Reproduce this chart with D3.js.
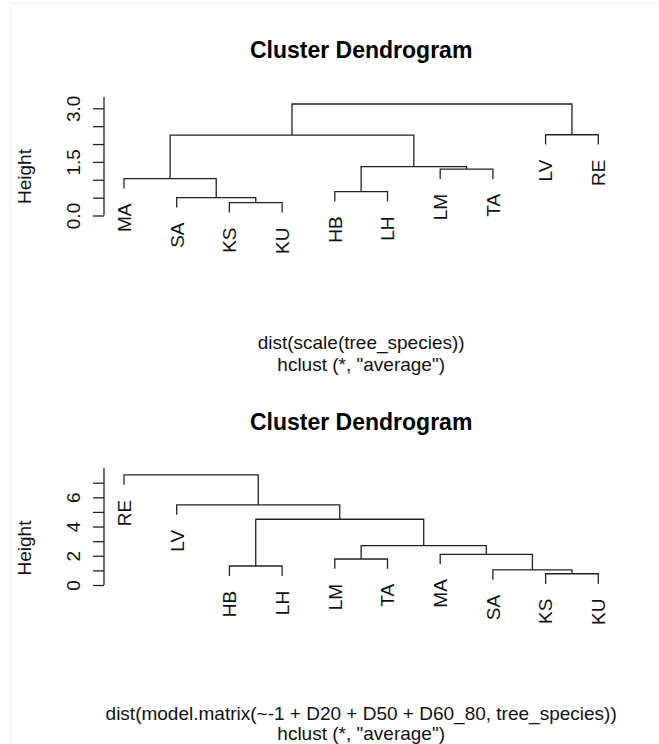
<!DOCTYPE html>
<html>
<head>
<meta charset="utf-8">
<script src="https://cdn.jsdelivr.net/npm/d3@7"></script>
<style>
  body { margin: 0; background: #fff; }
  text { font-family: "Liberation Sans", Arial, sans-serif; }
</style>
</head>
<body>
<div id="chart"></div>
<script>
// data
// merges: leaf names or 1-based index of an earlier merge
const leaves1 = ["MA", "SA", "KS", "KU", "HB", "LH", "LM", "TA", "LV", "RE"];
const merges1 = [["KS", "KU"], ["SA", 1], ["HB", "LH"], ["MA", 2], ["LM", "TA"], [3, 5], [4, 6], ["LV", "RE"], [7, 8]];
const heights1 = [0.36, 0.50, 0.67, 1.03, 1.30, 1.37, 2.25, 2.26, 3.12];
const ticks1 = [0, 0.5, 1, 1.5, 2, 2.5, 3];
const tickLabels1 = ["0.0", "", "", "1.5", "", "", "3.0"];
const sub1 = ["dist(scale(tree_species))", "hclust (*, \"average\")"];

const leaves2 = ["RE", "LV", "HB", "LH", "LM", "TA", "MA", "SA", "KS", "KU"];
const merges2 = [["KS", "KU"], ["SA", 1], ["HB", "LH"], ["LM", "TA"], ["MA", 2], [4, 5], [3, 6], ["LV", 7], ["RE", 8]];
const heights2 = [0.77, 1.03, 1.30, 1.78, 2.10, 2.69, 4.50, 5.48, 7.53];
const ticks2 = [0, 1, 2, 3, 4, 5, 6, 7];
const tickLabels2 = ["0", "", "2", "", "4", "", "6", ""];
const sub2 = ["dist(model.matrix(~-1 + D20 + D50 + D60_80, tree_species))", "hclust (*, \"average\")"];

const title = "Cluster Dendrogram";
const ylab = "Height";

const width = 659;
const height = 744;
const axisX = 104;
const leftX = 124, rightX = 598.3;
const lineCol = "#222";

const svg = d3.select("#chart").append("svg")
    .attr("width", width).attr("height", height);

// faint frame seen at the edge of the picture
svg.append("path").attr("d", "M10.5,744V3.5H659").attr("fill", "none").attr("stroke", "#efefef");

function drawDendro(leaves, merges, heights, ticks, tickLabels, subs, lay) {
    const g = svg.append("g");
    const x = d3.scalePoint().domain(leaves).range([leftX, rightX]);
    const y = d3.scaleLinear().domain([0, ticks[ticks.length - 1]]).range([lay.y0, lay.yTop]);
    const hang = 0.1 * (d3.max(heights) - d3.min(heights));

    // position and height of each merge
    const nodes = [];
    function pos(c, parentH) {
        if (typeof c === "string") return {x: x(c), h: parentH - hang, leaf: c};
        return {x: nodes[c - 1].x, h: nodes[c - 1].h};
    }
    merges.forEach((m, i) => {
        const h = heights[i];
        const a = pos(m[0], h), b = pos(m[1], h);
        nodes.push({x: (a.x + b.x) / 2, h: h, a: a, b: b});
    });

    g.selectAll("path.link").data(nodes).enter()
        .append("path")
        .attr("class", "link")
        .attr("fill", "none")
        .attr("stroke", lineCol)
        .attr("stroke-width", 1.3)
        .attr("d", d => `M${d.a.x},${y(d.a.h)}V${y(d.h)}H${d.b.x}V${y(d.b.h)}`);

    // leaf labels
    const leafEnds = [];
    nodes.forEach(n => [n.a, n.b].forEach(c => { if (c.leaf) leafEnds.push(c); }));
    g.selectAll("text.leaf").data(leafEnds).enter()
        .append("text")
        .attr("class", "leaf")
        .attr("transform", d => `translate(${d.x},${y(d.h) + 15}) rotate(-90)`)
        .attr("text-anchor", "end")
        .attr("dy", "0.36em")
        .attr("font-size", 19)
        .attr("fill", "#111")
        .text(d => d.leaf);

    // y axis
    const axis = d3.axisLeft(y).tickValues(ticks).tickSize(11)
        .tickFormat((d, i) => tickLabels[i]);
    const ax = g.append("g").attr("transform", `translate(${axisX},0)`).call(axis);
    ax.select(".domain").remove();
    ax.selectAll(".tick line").attr("stroke", lineCol).attr("stroke-width", 1.3);
    ax.selectAll(".tick text")
        .attr("x", 0).attr("y", -24).attr("dy", 0)
        .attr("transform", "rotate(-90)")
        .attr("text-anchor", "middle")
        .attr("font-size", 19)
        .attr("font-family", "Liberation Sans, Arial, sans-serif")
        .attr("fill", "#111");
    g.append("line")
        .attr("x1", axisX).attr("x2", axisX)
        .attr("y1", y(0)).attr("y2", y(d3.max(heights)) - 7)
        .attr("stroke", lineCol).attr("stroke-width", 1.3);

    g.append("text")
        .attr("transform", `translate(31,${lay.ylabY}) rotate(-90)`)
        .attr("text-anchor", "middle")
        .attr("font-size", 19)
        .attr("fill", "#111")
        .text(ylab);

    const cx = (leftX + rightX) / 2;
    g.append("text")
        .attr("x", cx).attr("y", lay.titleY)
        .attr("text-anchor", "middle")
        .attr("font-size", 23)
        .attr("font-weight", "bold")
        .text(title);

    g.selectAll("text.sub").data(subs).enter()
        .append("text")
        .attr("class", "sub")
        .attr("x", cx)
        .attr("y", (d, i) => lay.subY + i * lay.subGap)
        .attr("text-anchor", "middle")
        .attr("font-size", 19)
        .attr("fill", "#111")
        .text(d => d);
}

drawDendro(leaves1, merges1, heights1, ticks1, tickLabels1, sub1,
    {y0: 215.5, yTop: 108.3, ylabY: 176.5, titleY: 58, subY: 349, subGap: 21.5});
drawDendro(leaves2, merges2, heights2, ticks2, tickLabels2, sub2,
    {y0: 585, yTop: 482.7, ylabY: 548, titleY: 430, subY: 720, subGap: 19.5});
</script>
</body>
</html>
